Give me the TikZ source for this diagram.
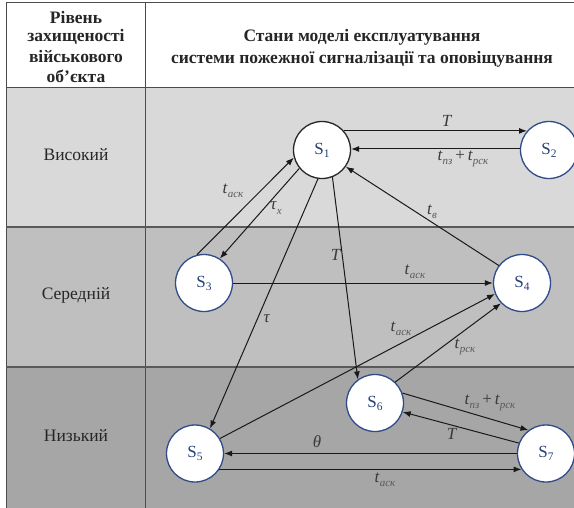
\documentclass[tikz,border=0pt]{standalone}
\usepackage{fontspec}
\setmainfont{Liberation Serif}
\usetikzlibrary{arrows.meta}
\definecolor{rowA}{HTML}{D9D9D9}
\definecolor{rowB}{HTML}{BFBFBF}
\definecolor{rowC}{HTML}{A6A6A6}
\definecolor{navy}{HTML}{2F4B8A}
\definecolor{stext}{HTML}{26407A}
\definecolor{lbl}{HTML}{3A3A3A}
\definecolor{sublbl}{HTML}{5A5A5A}
\newcommand\tsub[2]{\textit{#1}\raisebox{-4.5pt}{\fontsize{11}{11}\selectfont\itshape\color{sublbl}#2}}
\newcommand\stname[1]{S\raisebox{-3pt}{\fontsize{11.5}{11.5}\selectfont #1}}
\begin{document}
\begin{tikzpicture}[x=1pt,y=-1pt,
  state/.style={circle,draw=navy,line width=1.3pt,fill=white,minimum size=57pt,inner sep=0pt,
     font=\fontsize{17}{17}\selectfont,text=stext},
  edge/.style={-{Latex[length=8pt,width=6pt]},line width=1pt,black!90},
  lab/.style={font=\fontsize{17}{17}\selectfont,text=lbl,inner sep=1pt},
  head/.style={font=\fontsize{17.5}{17.5}\selectfont\bfseries,text=black!85,inner sep=0pt},
  level/.style={font=\fontsize{17.5}{17.5}\selectfont,text=black!85,inner sep=0pt},
  tline/.style={line width=1pt,black!70}]
\useasboundingbox (0,0) rectangle (574,507);
% table backgrounds
\fill[white] (0,0) rectangle (574,507);
\fill[rowA] (6,87) rectangle (576,227);
\fill[rowB] (6,227) rectangle (576,367);
\fill[rowC] (6,367) rectangle (576,508);
% table lines
\draw[tline] (6.5,508) -- (6.5,2.5) -- (576,2.5);
\draw[tline] (145,2.5) -- (145,508);
\draw[tline] (6,87.5) -- (576,87.5);
\draw[tline,line width=1.4pt,black!65] (6,227) -- (576,227);
\draw[tline,line width=1.4pt,black!65] (6,367) -- (576,367);
% header texts
\node[head] (h1) at (76,17.5) {Рівень};
\node[head] (h2) at (76,37) {захищеності};
\node[head] (h3) at (76,56.5) {військового};
\node[head] (h4) at (76,76) {об’єкта};
\node[head] (h5) at (362,37) {Стани моделі експлуатування};
\node[head] (h6) at (362,59) {системи пожежної сигналізації та оповіщування};
% levels
\node[level] (l1) at (76,155) {Високий};
\node[level] (l2) at (76,295) {Середній};
\node[level] (l3) at (76,436) {Низький};
% states
\node[state,draw=black!85] (S1) at (322,150) {\stname{1}};
\node[state] (S2) at (549,150) {\stname{2}};
\node[state] (S3) at (204,283) {\stname{3}};
\node[state] (S4) at (522,283) {\stname{4}};
\node[state] (S5) at (195,453.5) {\stname{5}};
\node[state] (S6) at (375,403) {\stname{6}};
\node[state] (S7) at (546,453.5) {\stname{7}};
% edges
\draw[edge] (S1.41) -- (S2.139);
\draw[edge] (S2.178) -- (S1.2);
\draw[edge] (S3.104) -- (S1.195);
\draw[edge] (S1.219) -- (S3.57);
\draw[edge] (S1.262) -- (S5.59);
\draw[edge] (S1.291) -- (S6.126);
\draw[edge] (S4.143) -- (S1.325);
\draw[edge] (S3.east) -- (S4.west);
\draw[edge] (S5.31) -- (S4.202);
\draw[edge] (S6.46) -- (S4.224);
\draw[edge] (S6.20) -- (S7.127);
\draw[edge] (S7.159) -- (S6.342);
\draw[edge] (S7.west) -- (S5.east);
\draw[edge] (S5.-33) -- (S7.213);
% labels
\node[lab] (L1) at (447,121) {\textit{T}};
\node[lab] (L2) at (463,159) {\tsub{t}{пз}\,+\,\tsub{t}{рск}};
\node[lab] (L3) at (233,191) {\tsub{t}{аск}};
\node[lab] (L4) at (276,208) {\textit{τ}\raisebox{-4.5pt}{\fontsize{11}{11}\selectfont\itshape\color{sublbl}x}};
\node[lab] (L5) at (267,319) {\textit{τ}};
\node[lab] (L6) at (336,255) {\textit{T}};
\node[lab] (L7) at (432,212) {\tsub{t}{в}};
\node[lab] (L8) at (415,272) {\tsub{t}{аск}};
\node[lab] (L9) at (401,329) {\tsub{t}{аск}};
\node[lab] (L10) at (465,347) {\tsub{t}{рск}};
\node[lab] (L11) at (490,403) {\tsub{t}{пз}\,+\,\tsub{t}{рск}};
\node[lab] (L12) at (452,434) {\textit{T}};
\node[lab] (L13) at (317,442) {\textit{θ}};
\node[lab] (L14) at (385,480) {\tsub{t}{аск}};
\end{tikzpicture}
\end{document}
